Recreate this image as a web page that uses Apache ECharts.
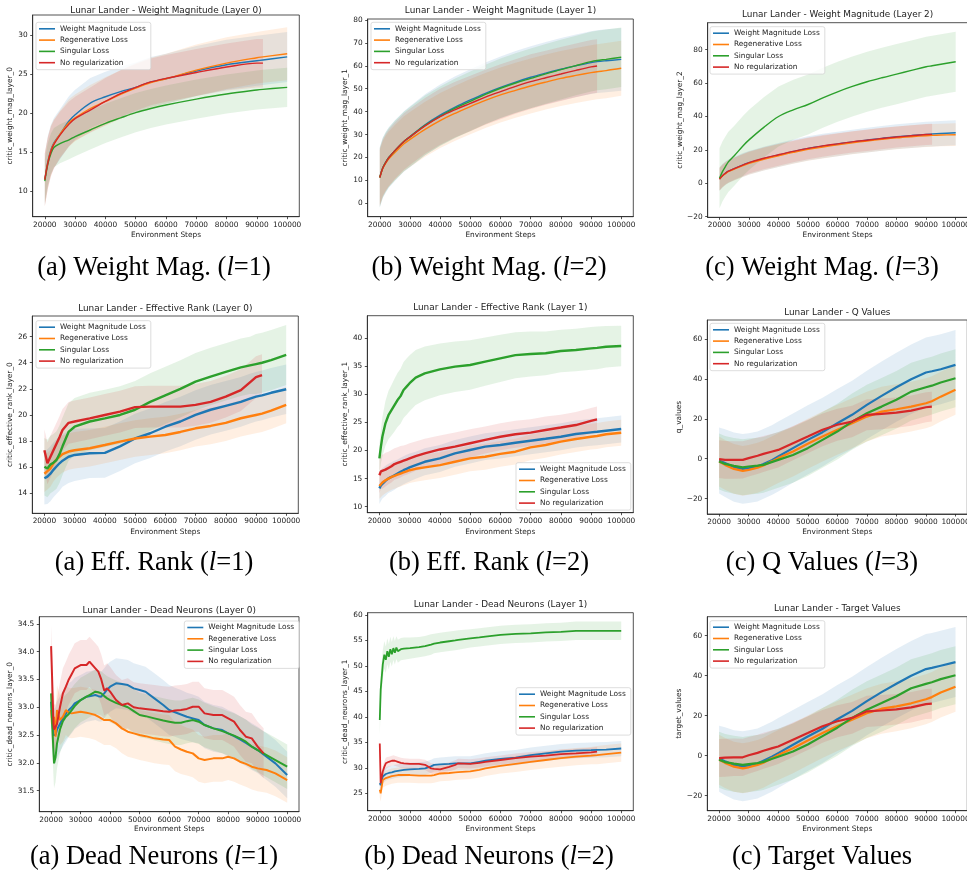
<!DOCTYPE html>
<html>
<head>
<meta charset="utf-8">
<script src="https://cdn.jsdelivr.net/npm/echarts@6/dist/echarts.min.js"></script>
<style>
  html, body { margin: 0; padding: 0; background: #fff; }
  #chart { width: 967px; height: 873px; }
</style>
</head>
<body>
<div id="chart"></div>
<script>
// ---- shared ----
var NAMES = ['Weight Magnitude Loss', 'Regenerative Loss', 'Singular Loss', 'No regularization'];
var COLORS = ['#1f77b4', '#ff7f0e', '#2ca02c', '#d62728'];
var BANDS = ['rgba(31,119,180,0.12)', 'rgba(255,127,14,0.12)', 'rgba(44,160,44,0.12)', 'rgba(214,39,40,0.12)'];
var xTicks = [20000, 30000, 40000, 50000, 60000, 70000, 80000, 90000, 100000];

// ---- (a) weight magnitude, layer 0 ----
var wm0Steps = [20000, 21000, 22000, 23000, 25000, 28000, 30000, 35000, 40000, 45000, 50000, 55000, 60000, 70000, 80000, 90000, 92000, 100000];
var wm0Wml   = [11.5, 13.8, 15.3, 16.2, 17.3, 19.0, 19.8, 21.3, 22.1, 22.75, 23.3, 24.0, 24.4, 25.4, 26.2, 26.7, 26.8, 27.2];
var wm0Regen = [11.5, 13.7, 15.2, 16.1, 17.3, 18.8, 19.4, 20.6, 21.5, 22.4, 23.2, 23.9, 24.4, 25.5, 26.4, 27.1, 27.2, 27.6];
var wm0Sing  = [11.3, 13.5, 14.8, 15.6, 16.1, 16.6, 17.0, 17.85, 18.7, 19.4, 20.07, 20.6, 21.05, 21.8, 22.45, 22.97, 23.05, 23.3];
var wm0None  = [11.5, 13.6, 15.1, 16.0, 17.2, 18.6, 19.3, 20.4, 21.5, 22.5, 23.3, 24.0, 24.45, 25.2, 25.9, 26.4, 26.4];
var wm0WmlSd   = [3.3, 3.3, 3.2, 3.2, 3.2, 3.2, 3.2, 3.2, 3.2, 3.2, 3.2, 3.2, 3.2, 3.2, 3.2, 3.2, 3.2, 3.2];
var wm0RegenSd = [3.4, 3.3, 3.2, 3.1, 3.0, 3.0, 3.0, 3.0, 3.1, 3.1, 3.2, 3.2, 3.2, 3.3, 3.3, 3.3, 3.3, 3.4];
var wm0SingSd  = [2.8, 2.7, 2.6, 2.5, 2.5, 2.5, 2.5, 2.5, 2.5, 2.5, 2.5, 2.5, 2.5, 2.5, 2.5, 2.5, 2.5, 2.5];
var wm0NoneSd  = [3.4, 3.3, 3.2, 3.1, 3.0, 2.9, 2.8, 2.9, 3.0, 3.0, 3.0, 3.0, 3.0, 3.0, 3.0, 3.1, 3.1];

// ---- (b) weight magnitude, layer 1 ----
var wm1Steps = [20000, 21000, 22000, 23000, 25000, 28000, 30000, 35000, 40000, 45000, 50000, 55000, 60000, 65000, 70000, 75000, 80000, 85000, 90000, 92000, 95000, 100000];
var wm1Wml   = [11.3, 15.5, 18.0, 20.0, 23.0, 27.0, 29.1, 34.3, 38.5, 42.0, 45.1, 48.0, 50.6, 52.9, 55.0, 56.8, 58.5, 60.0, 61.4, 61.8, 62.2, 62.8];
var wm1Regen = [11.3, 15.2, 17.6, 19.4, 22.2, 26.0, 27.9, 32.3, 36.1, 39.3, 42.2, 44.9, 47.3, 49.3, 51.2, 52.9, 54.5, 55.8, 57.0, 57.4, 57.9, 58.9];
var wm1Sing  = [11.3, 15.5, 18.0, 20.0, 23.0, 27.0, 29.0, 34.0, 38.0, 41.5, 44.5, 47.5, 50.2, 52.5, 54.5, 56.5, 58.3, 60.1, 61.8, 62.3, 62.8, 63.7];
var wm1None  = [11.3, 15.4, 17.9, 19.9, 23.0, 27.0, 29.0, 33.8, 37.8, 40.9, 43.6, 46.3, 48.7, 51.0, 53.1, 54.8, 56.4, 58.0, 59.5, 59.9];
var wm1WmlSd   = [13.2, 13.2, 13.2, 13.2, 13.2, 13.2, 13.3, 13.3, 13.3, 13.4, 13.4, 13.4, 13.5, 13.5, 13.5, 13.6, 13.6, 13.6, 13.7, 13.7, 13.7, 13.7];
var wm1RegenSd = [12.0, 12.0, 12.0, 12.0, 12.0, 12.0, 12.0, 12.0, 12.0, 12.0, 12.0, 12.0, 12.0, 12.0, 12.0, 12.0, 12.0, 12.0, 12.0, 12.0, 12.0, 12.0];
var wm1SingSd  = [13.0, 13.0, 13.0, 13.0, 13.0, 13.0, 13.0, 13.0, 13.0, 13.0, 13.0, 13.0, 13.0, 13.0, 13.0, 13.0, 13.0, 13.0, 13.0, 13.0, 13.0, 13.0];
var wm1NoneSd  = [12.5, 12.5, 12.5, 12.4, 12.4, 12.3, 12.3, 12.2, 12.2, 12.1, 12.1, 12.0, 12.0, 11.9, 11.9, 11.8, 11.8, 11.7, 11.7, 11.7];

// ---- (c) weight magnitude, layer 2 ----
var wm2Steps = [20000, 21000, 22000, 23000, 25000, 28000, 30000, 35000, 40000, 45000, 50000, 55000, 60000, 65000, 70000, 75000, 80000, 85000, 90000, 92000, 95000, 100000];
var wm2Wml   = [2.5, 4.5, 6.0, 7.2, 8.8, 11.0, 12.3, 14.8, 16.9, 19.0, 20.9, 22.3, 23.5, 24.8, 25.9, 26.9, 27.9, 28.6, 29.3, 29.5, 29.8, 30.3];
var wm2Regen = [2.5, 4.3, 5.7, 6.9, 8.5, 10.6, 11.9, 14.4, 16.5, 18.5, 20.3, 21.7, 23.0, 24.2, 25.3, 26.3, 27.2, 27.9, 28.5, 28.7, 28.9, 29.1];
var wm2Sing  = [3.0, 7.0, 10.0, 12.8, 16.5, 22.5, 26.0, 33.5, 40.0, 44.0, 47.2, 51.2, 54.8, 58.0, 60.8, 63.2, 65.4, 67.6, 69.8, 70.4, 71.3, 72.8];
var wm2None  = [2.5, 4.5, 6.0, 7.2, 8.8, 11.0, 12.4, 15.0, 17.1, 19.1, 20.9, 22.4, 23.6, 24.8, 25.8, 26.8, 27.7, 28.5, 29.2, 29.3];
var wm2WmlSd   = [7.0, 7.0, 7.0, 7.0, 7.0, 7.1, 7.1, 7.1, 7.2, 7.2, 7.2, 7.3, 7.3, 7.3, 7.4, 7.4, 7.4, 7.5, 7.5, 7.5, 7.5, 7.5];
var wm2RegenSd = [6.8, 6.8, 6.8, 6.8, 6.8, 6.8, 6.8, 6.8, 6.8, 6.8, 6.8, 6.8, 6.8, 6.8, 6.8, 6.8, 6.8, 6.8, 6.8, 6.8, 6.8, 6.8];
var wm2SingSd  = [18, 18, 18, 18, 18, 18, 18, 18, 18, 18, 18, 18, 18, 18, 18, 18, 18, 18, 18, 18, 18, 18];
var wm2NoneSd  = [6.8, 6.8, 6.8, 6.7, 6.7, 6.7, 6.6, 6.6, 6.6, 6.5, 6.5, 6.5, 6.4, 6.4, 6.4, 6.4, 6.3, 6.3, 6.3, 6.3];

// ---- (a) effective rank, layer 0 ----
var er0Steps = [20000, 21000, 22000, 23000, 24000, 25000, 26000, 28000, 30000, 35000, 40000, 45000, 50000, 55000, 60000, 65000, 70000, 75000, 80000, 85000, 88000, 90000, 92000, 95000, 100000];
var er0Wml   = [15.15, 15.28, 15.5, 15.8, 16.05, 16.3, 16.5, 16.8, 16.94, 17.07, 17.1, 17.6, 18.2, 18.6, 19.1, 19.5, 20.0, 20.4, 20.7, 21.0, 21.25, 21.4, 21.5, 21.7, 21.97];
var er0Regen = [15.5, 15.7, 15.9, 16.3, 16.6, 16.8, 17.0, 17.2, 17.3, 17.45, 17.7, 17.96, 18.2, 18.34, 18.47, 18.7, 18.98, 19.16, 19.4, 19.75, 19.9, 20.0, 20.1, 20.33, 20.77];
var er0Sing  = [16.04, 15.9, 16.2, 16.35, 16.55, 17.0, 17.6, 18.7, 19.1, 19.5, 19.74, 20.0, 20.4, 21.0, 21.5, 22.0, 22.55, 22.94, 23.3, 23.65, 23.8, 23.9, 24.0, 24.2, 24.6];
var er0None  = [17.3, 16.3, 16.8, 17.3, 17.8, 18.3, 18.85, 19.4, 19.5, 19.74, 20.0, 20.26, 20.6, 20.64, 20.64, 20.64, 20.77, 21.0, 21.4, 21.9, 22.5, 22.9, 23.06];
var er0WmlSd   = [2.0, 2.1, 2.1, 2.1, 2.1, 2.1, 2.0, 2.0, 2.0, 1.9, 1.9, 1.9, 1.9, 1.9, 1.9, 1.9, 1.9, 1.9, 1.9, 1.9, 1.9, 1.9, 1.9, 1.9, 1.9];
var er0RegenSd = [1.4, 1.4, 1.4, 1.4, 1.4, 1.4, 1.4, 1.4, 1.4, 1.4, 1.4, 1.4, 1.4, 1.4, 1.4, 1.4, 1.4, 1.4, 1.4, 1.4, 1.4, 1.4, 1.4, 1.4, 1.4];
var er0SingSd  = [2.2, 2.2, 2.2, 2.2, 2.2, 2.2, 2.2, 2.2, 2.2, 2.2, 2.2, 2.2, 2.2, 2.2, 2.2, 2.2, 2.2, 2.2, 2.2, 2.2, 2.2, 2.3, 2.3, 2.3, 2.3];
var er0NoneSd  = [1.6, 1.6, 1.6, 1.6, 1.6, 1.6, 1.6, 1.6, 1.6, 1.6, 1.6, 1.6, 1.6, 1.6, 1.6, 1.6, 1.6, 1.6, 1.6, 1.6, 1.6, 1.6, 1.6];

// ---- (b) effective rank, layer 1 ----
var er1Steps = [20000, 20500, 21000, 22000, 23000, 24000, 25000, 26000, 27000, 28000, 29000, 30000, 32000, 35000, 40000, 45000, 50000, 55000, 60000, 65000, 70000, 75000, 80000, 85000, 90000, 92000, 95000, 100000];
var er1Wml   = [13.26, 13.8, 14.15, 14.6, 15.04, 15.3, 15.6, 15.9, 16.2, 16.5, 16.75, 17.0, 17.4, 18.0, 18.6, 19.5, 20.1, 20.7, 21.0, 21.4, 21.76, 22.1, 22.47, 22.95, 23.24, 23.35, 23.54, 23.84];
var er1Regen = [13.7, 14.0, 14.3, 14.7, 15.0, 15.3, 15.5, 15.7, 15.9, 16.1, 16.3, 16.5, 16.75, 17.0, 17.4, 18.0, 18.6, 18.9, 19.4, 19.8, 20.57, 21.0, 21.6, 22.06, 22.47, 22.6, 22.9, 23.18];
var er1Sing  = [18.6, 20.7, 22.5, 24.85, 26.3, 27.2, 28.1, 29.0, 29.7, 30.8, 31.4, 32.0, 33.0, 33.76, 34.47, 34.95, 35.25, 35.84, 36.43, 37.0, 37.2, 37.33, 37.74, 37.92, 38.2, 38.3, 38.5, 38.63];
var er1None  = [15.6, 16.3, 16.2, 16.6, 16.9, 17.2, 17.6, 17.8, 18.0, 18.2, 18.4, 18.6, 19.0, 19.5, 20.2, 20.7, 21.3, 21.9, 22.47, 22.9, 23.2, 23.66, 24.1, 24.55, 25.3, 25.56];
var er1WmlSd   = [2.8, 2.8, 2.7, 2.7, 2.6, 2.6, 2.6, 2.5, 2.5, 2.5, 2.5, 2.5, 2.4, 2.4, 2.4, 2.4, 2.4, 2.4, 2.4, 2.4, 2.4, 2.4, 2.4, 2.4, 2.4, 2.4, 2.4, 2.4];
var er1RegenSd = [2.3, 2.3, 2.3, 2.3, 2.3, 2.3, 2.3, 2.3, 2.3, 2.3, 2.3, 2.3, 2.3, 2.3, 2.3, 2.3, 2.3, 2.3, 2.3, 2.3, 2.3, 2.3, 2.3, 2.3, 2.3, 2.3, 2.3, 2.3];
var er1SingSd  = [2.5, 3.0, 3.5, 4.0, 4.3, 4.5, 4.7, 4.8, 4.9, 5.0, 5.0, 5.0, 4.9, 4.8, 4.6, 4.5, 4.4, 4.3, 4.2, 4.1, 4.0, 3.9, 3.8, 3.8, 3.8, 3.8, 3.7, 3.6];
var er1NoneSd  = [3.2, 3.1, 3.0, 3.0, 2.9, 2.9, 2.8, 2.8, 2.8, 2.7, 2.7, 2.7, 2.6, 2.6, 2.5, 2.5, 2.5, 2.4, 2.4, 2.4, 2.4, 2.4, 2.3, 2.3, 2.3, 2.3];

// ---- (c) Q values ----
var qSteps = [20000, 22000, 25000, 28000, 30000, 33000, 35000, 38000, 40000, 45000, 50000, 55000, 60000, 65000, 70000, 75000, 80000, 85000, 90000, 92000, 95000, 100000];
var qWml   = [-0.9, -2.2, -4.2, -5.1, -4.7, -3.9, -2.6, -0.6, 1.1, 5.3, 9.45, 13.3, 17.8, 22.0, 27.0, 31.5, 35.8, 39.8, 43.2, 43.8, 44.8, 47.0];
var qRegen = [-1.4, -3.1, -5.1, -6.1, -5.6, -4.5, -3.4, -1.2, 0.3, 3.6, 7.5, 11.1, 14.5, 17.8, 21.1, 23.6, 24.8, 26.1, 27.8, 28.8, 31.1, 34.5];
var qSing  = [-1.4, -2.6, -3.6, -4.3, -3.9, -3.5, -3.1, -1.6, -0.6, 1.9, 5.3, 9.45, 13.6, 18.6, 22.8, 26.1, 29.5, 33.6, 35.8, 36.6, 38.2, 40.3];
var qNone  = [-0.2, -0.6, -0.6, -0.6, 0.3, 1.5, 2.4, 3.6, 4.4, 7.8, 11.1, 14.5, 17.0, 18.6, 22.0, 22.5, 23.1, 24.1, 25.8, 26.1];
var qWmlSd   = [16.5, 17.0, 17.3, 17.5, 17.5, 17.5, 17.5, 17.5, 17.5, 17.4, 17.3, 17.2, 17.1, 17.1, 17.1, 17.2, 17.3, 17.4, 17.5, 17.5, 17.5, 17.5];
var qRegenSd = [12.5, 12.5, 12.5, 12.5, 12.5, 12.5, 12.5, 12.5, 12.5, 12.5, 12.5, 12.5, 12.5, 12.5, 12.5, 12.5, 12.5, 12.5, 12.5, 12.5, 12.5, 12.5];
var qSingSd  = [14.0, 14.0, 14.0, 14.0, 14.0, 14.0, 14.0, 14.0, 14.0, 14.0, 14.0, 14.0, 14.0, 14.1, 14.2, 14.3, 14.4, 14.5, 14.5, 14.5, 14.5, 14.5];
var qNoneSd  = [9.5, 9.5, 9.4, 9.3, 9.2, 9.1, 9.0, 8.9, 8.8, 8.6, 8.4, 8.2, 8.0, 7.9, 7.8, 7.7, 7.6, 7.6, 7.5, 7.5];

// ---- (a) dead neurons, layer 0 ----
var dn0Steps = [20000, 20300, 20800, 21000, 21500, 22000, 23000, 24000, 25000, 26000, 27000, 28000, 30000, 32000, 33000, 35000, 36000, 37000, 38000, 39000, 40000, 42000, 44000, 46000, 48000, 50000, 52000, 55000, 58000, 60000, 62000, 64000, 66000, 68000, 70000, 72000, 75000, 78000, 80000, 82000, 84000, 86000, 88000, 90000, 92000, 93000, 96000, 100000];
var dn0Wml   = [33.1, 32.8, 32.5, 32.47, 32.5, 32.6, 32.7, 32.8, 32.88, 32.95, 33.0, 33.07, 33.13, 33.19, 33.2, 33.22, 33.2, 33.19, 33.25, 33.32, 33.37, 33.43, 33.42, 33.4, 33.34, 33.31, 33.28, 33.16, 33.04, 32.95, 32.91, 32.87, 32.83, 32.8, 32.77, 32.68, 32.62, 32.59, 32.53, 32.48, 32.42, 32.36, 32.29, 32.23, 32.15, 32.11, 31.99, 31.78];
var dn0Regen = [32.95, 32.7, 32.75, 32.83, 32.47, 32.95, 32.77, 32.83, 32.95, 32.9, 32.89, 32.9, 32.92, 32.9, 32.89, 32.86, 32.83, 32.8, 32.77, 32.77, 32.77, 32.71, 32.62, 32.56, 32.53, 32.5, 32.48, 32.44, 32.42, 32.41, 32.29, 32.24, 32.2, 32.17, 32.08, 32.05, 32.08, 32.08, 32.11, 32.08, 32.02, 31.98, 31.93, 31.9, 31.88, 31.87, 31.81, 31.69];
var dn0Sing  = [33.25, 32.8, 32.2, 31.99, 32.1, 32.35, 32.6, 32.75, 32.83, 32.88, 32.95, 33.02, 33.13, 33.19, 33.22, 33.28, 33.27, 33.25, 33.2, 33.16, 33.13, 33.08, 33.04, 33.0, 32.93, 32.86, 32.84, 32.8, 32.76, 32.74, 32.72, 32.72, 32.75, 32.77, 32.74, 32.68, 32.62, 32.57, 32.53, 32.49, 32.44, 32.38, 32.29, 32.23, 32.17, 32.14, 32.05, 31.93];
var dn0None  = [34.1, 33.6, 32.7, 32.6, 32.6, 32.7, 33.0, 33.25, 33.37, 33.5, 33.6, 33.7, 33.76, 33.76, 33.82, 33.7, 33.64, 33.5, 33.3, 33.34, 33.28, 33.13, 33.04, 33.07, 33.0, 32.98, 32.97, 32.95, 32.93, 32.92, 32.94, 32.95, 32.97, 33.01, 33.01, 32.89, 32.86, 32.86, 32.8, 32.74, 32.59, 32.47, 32.44, 32.29, 32.17];
var dn0WmlSd   = [0.5, 0.5, 0.5, 0.5, 0.5, 0.5, 0.5, 0.5, 0.5, 0.48, 0.47, 0.46, 0.45, 0.45, 0.45, 0.45, 0.45, 0.45, 0.45, 0.45, 0.45, 0.45, 0.45, 0.45, 0.45, 0.45, 0.45, 0.45, 0.45, 0.45, 0.44, 0.44, 0.43, 0.43, 0.42, 0.42, 0.42, 0.42, 0.42, 0.42, 0.42, 0.42, 0.42, 0.42, 0.42, 0.42, 0.42, 0.42];
var dn0RegenSd = [0.45, 0.45, 0.45, 0.45, 0.45, 0.45, 0.45, 0.45, 0.45, 0.45, 0.45, 0.45, 0.45, 0.45, 0.45, 0.45, 0.45, 0.45, 0.45, 0.45, 0.45, 0.45, 0.45, 0.45, 0.45, 0.45, 0.45, 0.45, 0.45, 0.45, 0.44, 0.44, 0.43, 0.43, 0.42, 0.42, 0.42, 0.42, 0.42, 0.42, 0.41, 0.41, 0.41, 0.41, 0.41, 0.41, 0.41, 0.41];
var dn0SingSd  = [0.45, 0.45, 0.45, 0.45, 0.45, 0.45, 0.43, 0.42, 0.4, 0.4, 0.4, 0.4, 0.4, 0.4, 0.4, 0.4, 0.4, 0.4, 0.4, 0.4, 0.4, 0.4, 0.4, 0.4, 0.4, 0.4, 0.4, 0.4, 0.4, 0.4, 0.4, 0.4, 0.4, 0.4, 0.4, 0.4, 0.4, 0.4, 0.4, 0.4, 0.4, 0.4, 0.4, 0.4, 0.4, 0.4, 0.4, 0.4];
var dn0NoneSd  = [0.37, 0.45, 0.45, 0.45, 0.45, 0.45, 0.45, 0.45, 0.45, 0.45, 0.45, 0.45, 0.45, 0.45, 0.45, 0.45, 0.45, 0.45, 0.45, 0.45, 0.45, 0.45, 0.45, 0.45, 0.45, 0.45, 0.45, 0.45, 0.45, 0.45, 0.45, 0.45, 0.45, 0.45, 0.45, 0.45, 0.45, 0.45, 0.45, 0.45, 0.45, 0.45, 0.45, 0.45, 0.45];

// ---- (b) dead neurons, layer 1 ----
var dn1Steps = [20000, 20300, 21000, 21500, 22000, 22500, 23000, 23500, 24000, 24500, 25000, 25500, 26000, 27000, 28000, 30000, 33000, 35000, 37000, 38000, 40000, 43000, 45000, 46000, 50000, 53000, 55000, 60000, 65000, 70000, 75000, 80000, 85000, 90000, 92000, 95000, 100000];
var dn1Wml   = [27.0, 26.6, 28.3, 28.5, 28.8, 28.9, 29.0, 29.05, 29.1, 29.2, 29.3, 29.35, 29.4, 29.5, 29.6, 29.7, 29.8, 29.9, 30.3, 30.6, 30.7, 30.8, 30.9, 30.9, 30.9, 31.2, 31.4, 31.75, 32.0, 32.5, 32.85, 33.2, 33.4, 33.5, 33.55, 33.6, 33.8];
var dn1Regen = [25.7, 25.0, 27.6, 27.8, 28.0, 28.1, 28.2, 28.3, 28.4, 28.45, 28.5, 28.55, 28.6, 28.6, 28.6, 28.6, 28.5, 28.5, 28.5, 28.6, 28.9, 29.0, 29.1, 29.15, 29.3, 29.6, 29.9, 30.4, 30.8, 31.2, 31.55, 31.9, 32.2, 32.4, 32.5, 32.7, 33.0];
var dn1Sing  = [39.4, 45.3, 50.3, 52.2, 51.2, 52.9, 51.8, 53.3, 52.3, 53.5, 52.6, 53.6, 52.9, 53.3, 53.4, 53.5, 53.7, 53.9, 54.2, 54.4, 54.6, 54.85, 55.0, 55.1, 55.4, 55.6, 55.75, 56.1, 56.3, 56.4, 56.6, 56.7, 56.9, 56.9, 56.9, 56.9, 56.9];
var dn1None  = [34.8, 27.0, 29.3, 30.2, 30.9, 31.1, 31.2, 31.3, 31.4, 31.5, 31.4, 31.3, 31.2, 31.0, 30.9, 30.8, 30.8, 30.6, 29.9, 29.8, 29.7, 30.2, 30.6, 30.9, 30.8, 31.0, 31.2, 31.55, 31.9, 32.2, 32.4, 32.7, 32.85, 33.05, 33.2];
var dn1WmlSd   = [1.3, 1.3, 1.3, 1.3, 1.3, 1.3, 1.3, 1.3, 1.3, 1.3, 1.3, 1.3, 1.3, 1.3, 1.3, 1.3, 1.3, 1.3, 1.3, 1.3, 1.35, 1.4, 1.4, 1.4, 1.4, 1.45, 1.45, 1.5, 1.5, 1.5, 1.5, 1.5, 1.5, 1.5, 1.5, 1.5, 1.5];
var dn1RegenSd = [1.5, 1.6, 1.5, 1.5, 1.5, 1.5, 1.5, 1.5, 1.5, 1.5, 1.5, 1.5, 1.5, 1.5, 1.5, 1.5, 1.5, 1.5, 1.5, 1.5, 1.5, 1.5, 1.5, 1.5, 1.5, 1.5, 1.5, 1.5, 1.6, 1.6, 1.6, 1.7, 1.7, 1.7, 1.8, 1.8, 1.8];
var dn1SingSd  = [3.0, 3.0, 2.8, 2.7, 2.6, 2.55, 2.5, 2.45, 2.4, 2.35, 2.3, 2.25, 2.25, 2.2, 2.2, 2.1, 2.0, 2.0, 2.0, 1.9, 1.9, 1.9, 1.9, 1.9, 1.8, 1.8, 1.8, 1.8, 1.8, 1.8, 1.8, 1.8, 1.8, 1.8, 1.8, 1.8, 1.8];
var dn1NoneSd  = [1.2, 1.2, 1.1, 1.1, 1.1, 1.05, 1.0, 1.0, 1.0, 1.0, 1.0, 1.0, 1.0, 1.0, 1.0, 1.0, 1.0, 1.0, 1.0, 1.0, 1.0, 0.9, 0.9, 0.9, 0.9, 0.9, 0.9, 0.9, 0.9, 0.9, 0.9, 0.9, 0.9, 0.9, 0.9];

// ---- (c) target values ----
var tSteps = [20000, 22000, 25000, 28000, 30000, 33000, 35000, 38000, 40000, 45000, 50000, 55000, 60000, 65000, 70000, 75000, 80000, 85000, 90000, 92000, 95000, 100000];
var tWml   = [-1.5, -2.8, -4.6, -5.3, -4.8, -3.9, -2.5, -0.4, 1.3, 5.5, 9.6, 13.5, 18.2, 22.4, 27.3, 31.8, 36.0, 40.0, 43.3, 43.9, 45.0, 46.8];
var tRegen = [-2.0, -3.6, -5.5, -6.3, -5.8, -4.6, -3.5, -1.2, 0.4, 3.7, 7.6, 11.3, 14.8, 18.0, 21.2, 23.5, 24.7, 26.2, 28.2, 29.3, 31.6, 34.5];
var tSing  = [-2.0, -3.2, -4.0, -4.6, -4.2, -3.7, -3.1, -1.5, -0.5, 2.1, 5.6, 9.8, 14.0, 18.9, 23.0, 26.3, 29.7, 33.7, 35.9, 36.7, 38.3, 40.2];
var tNone  = [-1.2, -1.0, -0.8, -0.8, 0.2, 1.4, 2.5, 3.8, 4.6, 8.0, 11.3, 14.7, 17.2, 18.9, 22.2, 22.6, 23.2, 24.2, 25.8, 26.0];
var tWmlSd   = [16.5, 17.0, 17.3, 17.5, 17.5, 17.5, 17.5, 17.5, 17.5, 17.4, 17.3, 17.2, 17.1, 17.1, 17.1, 17.2, 17.3, 17.4, 17.5, 17.5, 17.5, 17.5];
var tRegenSd = [12.5, 12.5, 12.5, 12.5, 12.5, 12.5, 12.5, 12.5, 12.5, 12.5, 12.5, 12.5, 12.5, 12.5, 12.5, 12.5, 12.5, 12.5, 12.5, 12.5, 12.5, 12.5];
var tSingSd  = [14.0, 14.0, 14.0, 14.0, 14.0, 14.0, 14.0, 14.0, 14.0, 14.0, 14.0, 14.0, 14.0, 14.1, 14.2, 14.3, 14.4, 14.5, 14.5, 14.5, 14.5, 14.5];
var tNoneSd  = [9.5, 9.5, 9.4, 9.3, 9.2, 9.1, 9.0, 8.9, 8.8, 8.6, 8.4, 8.2, 8.0, 7.9, 7.8, 7.7, 7.6, 7.6, 7.5, 7.5];

// y tick labels per panel
var wm0Ticks = [10, 15, 20, 25, 30];
var wm1Ticks = [0, 10, 20, 30, 40, 50, 60, 70, 80];
var wm2Ticks = [-20, 0, 20, 40, 60, 80];
var er0Ticks = [14, 16, 18, 20, 22, 24, 26];
var er1Ticks = [10, 15, 20, 25, 30, 35, 40];
var qTicks   = [-20, 0, 20, 40, 60];
var dn0Ticks = [31.5, 32.0, 32.5, 33.0, 33.5, 34.0, 34.5];
var dn1Ticks = [25, 30, 35, 40, 45, 50, 55, 60];
var tTicks   = [-20, 0, 20, 40, 60];

// panel layout (positions in px)
var panels = [
  { steps: wm0Steps, mean: [wm0Wml, wm0Regen, wm0Sing, wm0None], sd: [wm0WmlSd, wm0RegenSd, wm0SingSd, wm0NoneSd],
    title: 'Lunar Lander - Weight Magnitude (Layer 0)', yName: 'critic_weight_mag_layer_0', ticks: wm0Ticks, dec: 0,
    yMin: 6.76, yMax: 32.56, box: [32.7, 15, 266.6, 201.7], titleY: 10.7, leg: [36, 22.3], yGap: 19, xGap: 14.6, lw: 1.4, smooth: true },
  { steps: wm1Steps, mean: [wm1Wml, wm1Regen, wm1Sing, wm1None], sd: [wm1WmlSd, wm1RegenSd, wm1SingSd, wm1NoneSd],
    title: 'Lunar Lander - Weight Magnitude (Layer 1)', yName: 'critic_weight_mag_layer_1', ticks: wm1Ticks, dec: 0,
    yMin: -5.8, yMax: 80.4, box: [367.7, 19, 265.6, 197.7], titleY: 10.7, leg: [371, 22.3], yGap: 19, xGap: 14.9, lw: 1.4, smooth: true },
  { steps: wm2Steps, mean: [wm2Wml, wm2Regen, wm2Sing, wm2None], sd: [wm2WmlSd, wm2RegenSd, wm2SingSd, wm2NoneSd],
    title: 'Lunar Lander - Weight Magnitude (Layer 2)', yName: 'critic_weight_mag_layer_2', ticks: wm2Ticks, dec: 0,
    yMin: -20.4, yMax: 96.2, box: [707.7, 22.7, 259.8, 194.6], titleY: 15, leg: [710, 26.7], yGap: 24, xGap: 14.7, lw: 1.4, smooth: true },
  { steps: er0Steps, mean: [er0Wml, er0Regen, er0Sing, er0None], sd: [er0WmlSd, er0RegenSd, er0SingSd, er0NoneSd],
    title: 'Lunar Lander - Effective Rank (Layer 0)', yName: 'critic_effective_rank_layer_0', ticks: er0Ticks, dec: 0,
    yMin: 12.47, yMax: 27.58, box: [32.3, 316, 266, 197.3], titleY: 308.3, leg: [36, 320.7], yGap: 17, xGap: 15.3, lw: 2.4, smooth: false },
  { steps: er1Steps, mean: [er1Wml, er1Regen, er1Sing, er1None], sd: [er1WmlSd, er1RegenSd, er1SingSd, er1NoneSd],
    title: 'Lunar Lander - Effective Rank (Layer 1)', yName: 'critic_effective_rank_layer_1', ticks: er1Ticks, dec: 0,
    yMin: 8.93, yMax: 44.03, box: [367.3, 315.7, 266, 197], titleY: 307.3, leg: [516, 462.7], yGap: 18.6, xGap: 15.9, lw: 2.4, smooth: false },
  { steps: qSteps, mean: [qWml, qRegen, qSing, qNone], sd: [qWmlSd, qRegenSd, qSingSd, qNoneSd],
    title: 'Lunar Lander - Q Values', yName: 'q_values', ticks: qTicks, dec: 0,
    yMin: -27.7, yMax: 69.5, box: [707.3, 320, 260, 194], titleY: 312.3, leg: [710, 323.3], yGap: 23.6, xGap: 14.6, lw: 2.2, smooth: false },
  { steps: dn0Steps, mean: [dn0Wml, dn0Regen, dn0Sing, dn0None], sd: [dn0WmlSd, dn0RegenSd, dn0SingSd, dn0NoneSd],
    title: 'Lunar Lander - Dead Neurons (Layer 0)', yName: 'critic_dead_neurons_layer_0', ticks: dn0Ticks, dec: 1,
    yMin: 31.12, yMax: 34.63, box: [39.3, 616.7, 259.7, 195], titleY: 610.7, leg: [184.3, 621], yGap: 25, xGap: 14, lw: 2.0, smooth: false },
  { steps: dn1Steps, mean: [dn1Wml, dn1Regen, dn1Sing, dn1None], sd: [dn1WmlSd, dn1RegenSd, dn1SingSd, dn1NoneSd],
    title: 'Lunar Lander - Dead Neurons (Layer 1)', yName: 'critic_dead_neurons_layer_1', ticks: dn1Ticks, dec: 0,
    yMin: 21.6, yMax: 60.45, box: [367.7, 612.7, 265.6, 198], titleY: 605, leg: [516, 687.7], yGap: 19, xGap: 14.9, lw: 1.8, smooth: false },
  { steps: tSteps, mean: [tWml, tRegen, tSing, tNone], sd: [tWmlSd, tRegenSd, tSingSd, tNoneSd],
    title: 'Lunar Lander - Target Values', yName: 'target_values', ticks: tTicks, dec: 0,
    yMin: -27.5, yMax: 69.5, box: [707.3, 616.7, 260, 194], titleY: 609, leg: [710, 620.7], yGap: 23.6, xGap: 14.9, lw: 2.2, smooth: false }
];

var captions = [
  ['(a) Weight Mag. (', '=1)', 154, 268], ['(b) Weight Mag. (', '=2)', 489, 268], ['(c) Weight Mag. (', '=3)', 822, 268],
  ['(a) Eff. Rank (', '=1)', 154, 563], ['(b) Eff. Rank (', '=2)', 489, 563], ['(c) Q Values (', '=3)', 822, 563],
  ['(a) Dead Neurons (', '=1)', 154, 857], ['(b) Dead Neurons (', '=2)', 489, 857], ['(c) Target Values', null, 822, 857]
];

var FONT = 'DejaVu Sans';
var INK = '#222';

function fmtNum(v, dec) {
  var s = dec ? v.toFixed(dec) : String(Math.round(v));
  return v < 0 ? '\u2212' + s.replace('-', '') : s;
}

function bandRender(rows, fill) {
  return function (params, api) {
    if (params.dataIndex !== 0) return null;
    var top = [], bot = [];
    for (var k = 0; k < rows.length; k++) {
      top.push(api.coord([rows[k][0], rows[k][2]]));
      bot.unshift(api.coord([rows[k][0], rows[k][1]]));
    }
    return { type: 'polygon', shape: { points: top.concat(bot) }, style: { fill: fill, stroke: null } };
  };
}

var option = { animation: false, backgroundColor: '#fff', grid: [], xAxis: [], yAxis: [], legend: [], series: [], graphic: [] };

panels.forEach(function (p, i) {
  var b = p.box;
  option.grid.push({ left: b[0], top: b[1], width: b[2], height: b[3], show: true, outerBoundsMode: 'none',
    containLabel: false, borderColor: '#262626', borderWidth: 0.8, backgroundColor: 'transparent' });
  option.xAxis.push({
    type: 'value', gridIndex: i, min: 16000, max: 104000,
    name: 'Environment Steps', nameLocation: 'middle', nameGap: p.xGap,
    nameTextStyle: { fontFamily: FONT, fontSize: 7.4, color: INK },
    axisLine: { show: true, onZero: false, lineStyle: { color: '#262626', width: 0.8 } },
    axisTick: { show: true, length: 2.5, customValues: xTicks, lineStyle: { color: '#262626', width: 0.8 } },
    axisLabel: { customValues: xTicks, margin: 4.5, fontFamily: FONT, fontSize: 7.4, color: INK, hideOverlap: false,
      formatter: function (v) { return String(v); } },
    splitLine: { show: false }
  });
  option.yAxis.push({
    type: 'value', gridIndex: i, min: p.yMin, max: p.yMax,
    name: p.yName, nameLocation: 'middle', nameGap: p.yGap,
    nameTextStyle: { fontFamily: FONT, fontSize: 7.4, color: INK },
    axisLine: { show: true, onZero: false, lineStyle: { color: '#262626', width: 0.8 } },
    axisTick: { show: true, length: 2.5, customValues: p.ticks, lineStyle: { color: '#262626', width: 0.8 } },
    axisLabel: { customValues: p.ticks, margin: 5, fontFamily: FONT, fontSize: 7.4, color: INK,
      formatter: (function (dec) { return function (v) { return fmtNum(v, dec); }; })(p.dec) },
    splitLine: { show: false }
  });

  // shaded spread bands first
  for (var s = 0; s < 4; s++) {
    var m = p.mean[s], d = p.sd[s], rows = [];
    for (var k = 0; k < m.length; k++) rows.push([p.steps[k], m[k] - d[k], m[k] + d[k]]);
    option.series.push({
      type: 'custom', name: 'band' + i + '_' + s, xAxisIndex: i, yAxisIndex: i, silent: true, z: 1,
      data: rows, encode: { x: 0, y: [1, 2] }, renderItem: bandRender(rows, BANDS[s])
    });
  }
  // mean lines
  for (var s2 = 0; s2 < 4; s2++) {
    var mm = p.mean[s2], pts = [];
    for (var j = 0; j < mm.length; j++) pts.push([p.steps[j], mm[j]]);
    option.series.push({
      type: 'line', name: NAMES[s2], xAxisIndex: i, yAxisIndex: i, data: pts, symbol: 'none',
      smooth: p.smooth ? 0.35 : false, z: 3, clip: true,
      lineStyle: { width: p.lw, color: COLORS[s2] }, itemStyle: { color: COLORS[s2] }
    });
  }

  option.legend.push({
    data: NAMES, orient: 'vertical', left: p.leg[0], top: p.leg[1], selectedMode: false,
    icon: 'rect', itemWidth: 16, itemHeight: 1.6, itemGap: 2.3, padding: [2, 5, 2.5, 3],
    backgroundColor: 'rgba(255,255,255,0.8)', borderColor: '#d4d4d4', borderWidth: 0.8, borderRadius: 2,
    textStyle: { fontFamily: FONT, fontSize: 7.4, color: INK, lineHeight: 9 }
  });

  option.graphic.push({
    type: 'text', x: b[0] + b[2] / 2, y: p.titleY, silent: true,
    style: { text: p.title, fontFamily: FONT, fontSize: 8.9, fill: INK,
      align: 'center', textAlign: 'center', verticalAlign: 'middle', textVerticalAlign: 'middle' }
  });
});

captions.forEach(function (c) {
  var txt = c[1] === null ? '{n|' + c[0] + '}' : '{n|' + c[0] + '}{i|l}{n|' + c[1] + '}';
  option.graphic.push({
    type: 'text', x: c[2], y: c[3], silent: true,
    style: {
      text: txt, fontFamily: 'Liberation Serif', fontSize: 26.5, fill: '#000',
      align: 'center', textAlign: 'center', verticalAlign: 'middle', textVerticalAlign: 'middle',
      rich: {
        n: { fontFamily: 'Liberation Serif', fontSize: 26.5, fill: '#000', color: '#000' },
        i: { fontFamily: 'Liberation Serif', fontSize: 26.5, fontStyle: 'italic', fill: '#000', color: '#000' }
      }
    }
  });
});

var chart = echarts.init(document.getElementById('chart'), null, { renderer: 'canvas' });
chart.setOption(option);
</script>
</body>
</html>
